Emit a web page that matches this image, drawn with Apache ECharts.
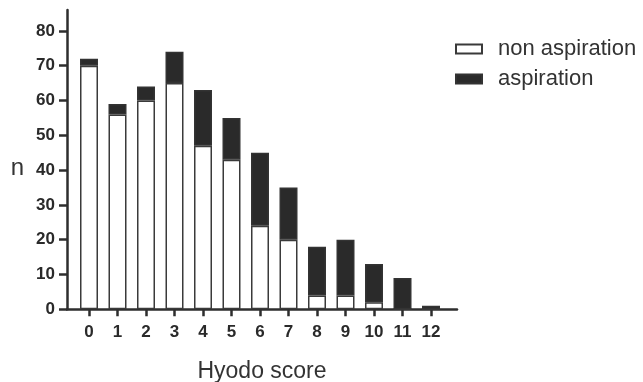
<!DOCTYPE html>
<html>
<head>
<meta charset="utf-8">
<script src="https://cdn.jsdelivr.net/npm/echarts@6/dist/echarts.min.js"></script>
<style>html,body{margin:0;padding:0;background:#fff;}#c{width:643px;height:382px;}</style>
</head>
<body>
<div id="c"></div>
<script>
var categories = ['0','1','2','3','4','5','6','7','8','9','10','11','12'];
var nonAspiration = [70,56,60,65,47,43,24,20,4,4,2,0,0];
var aspiration = [2,3,4,9,16,12,21,15,14,16,11,9,1];
var yTicks = [0,10,20,30,40,50,60,70,80];

var chart = echarts.init(document.getElementById('c'));
var font = '"Liberation Sans", Arial, Helvetica, sans-serif';
var axisColor = '#2e2e2e';
chart.setOption({
  animation: false,
  backgroundColor: '#fff',
  grid: [
    { left: 67, right: 186, top: 10, bottom: 72.7, containLabel: false, outerBoundsMode: 'none' },
    { left: 74.75, right: 197.75, top: 10, bottom: 72.7, containLabel: false, outerBoundsMode: 'none' }
  ],
  legend: {
    orient: 'vertical', left: 450, top: 33, icon: 'rect', itemWidth: 26, itemHeight: 9, itemGap: 8,
    textStyle: { fontFamily: font, fontSize: 22, color: '#333', padding: [0, 0, 0, 11] },
    data: ['non aspiration', 'aspiration']
  },
  xAxis: [
    {
      gridIndex: 0, type: 'value', min: 0, max: 1,
      name: 'Hyodo score', nameLocation: 'middle', nameGap: 51,
      nameTextStyle: { fontFamily: font, fontSize: 23, color: '#333' },
      splitLine: { show: false },
      axisLine: { show: true, onZero: false, lineStyle: { color: axisColor, width: 2.5 } },
      axisTick: { show: false },
      axisLabel: { show: false }
    },
    {
      gridIndex: 1, type: 'category', data: categories, boundaryGap: true,
      splitLine: { show: false },
      axisLine: { show: false, onZero: false },
      axisTick: { show: true, alignWithLabel: true, length: 7, lineStyle: { color: axisColor, width: 2.5 } },
      axisLabel: { margin: 15, fontFamily: font, fontSize: 17, fontWeight: 'bold', color: '#2a2a2a', interval: 0 }
    }
  ],
  yAxis: [
    {
      gridIndex: 0, type: 'value', min: 0, max: 86,
      name: 'n', nameLocation: 'middle', nameRotate: 0, nameGap: 43,
      nameTextStyle: { fontFamily: font, fontSize: 24, color: '#333', verticalAlign: 'top', lineHeight: 18 },
      splitLine: { show: false },
      axisLine: { show: true, onZero: false, lineStyle: { color: axisColor, width: 2.5 } },
      axisTick: { show: true, length: 8, customValues: yTicks, lineStyle: { color: axisColor, width: 2.5 } },
      axisLabel: { customValues: yTicks, margin: 12, fontFamily: font, fontSize: 17, fontWeight: 'bold', color: '#2a2a2a' }
    },
    {
      gridIndex: 1, type: 'value', min: 0, max: 86, show: false, splitLine: { show: false }
    }
  ],
  series: [
    { name: 'non aspiration', type: 'bar', stack: 'a', xAxisIndex: 1, yAxisIndex: 1, barWidth: 18, data: nonAspiration,
      itemStyle: { color: '#fff', borderColor: '#3a3a3a', borderWidth: 1.5 } },
    { name: 'aspiration', type: 'bar', stack: 'a', xAxisIndex: 1, yAxisIndex: 1, barWidth: 18, data: aspiration,
      itemStyle: { color: '#2a2a2a', borderColor: '#333', borderWidth: 1.5 } }
  ]
});
</script>
</body>
</html>
